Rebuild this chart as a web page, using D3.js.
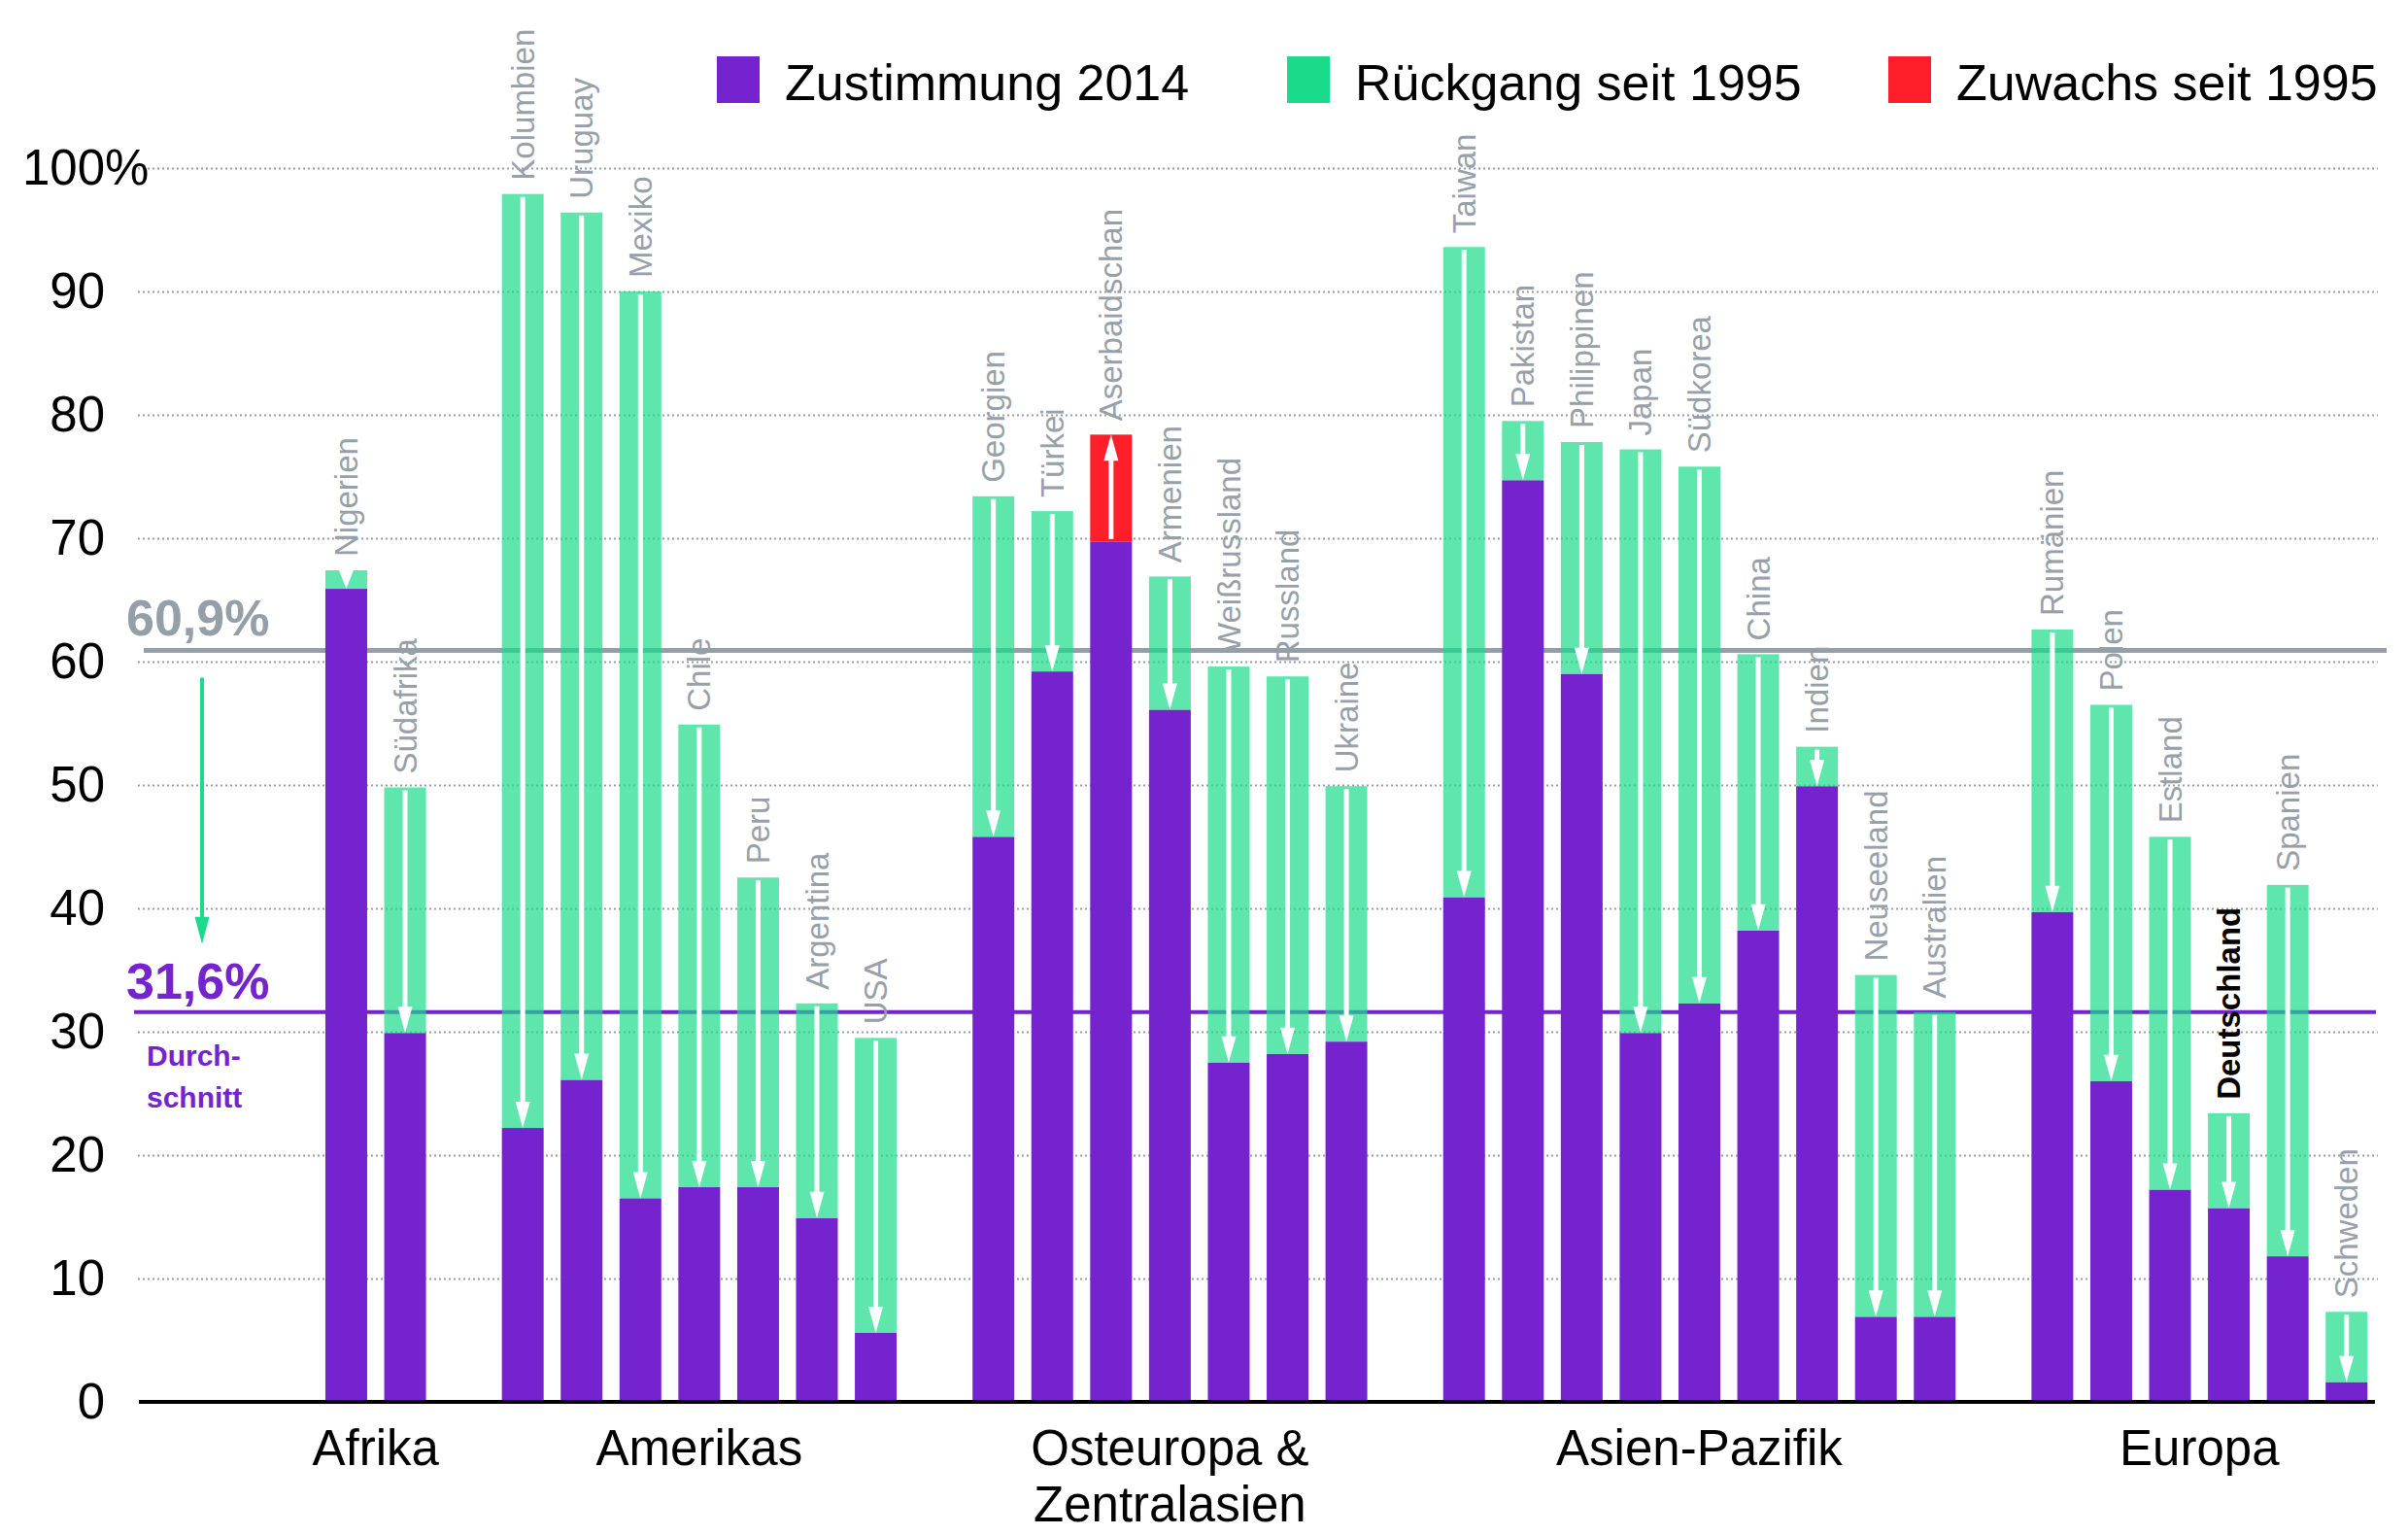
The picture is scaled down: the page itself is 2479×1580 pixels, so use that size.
<!DOCTYPE html>
<html>
<head>
<meta charset="utf-8">
<script src="https://cdn.jsdelivr.net/npm/d3@7"></script>
<style>
  body { margin: 0; background: #fff; }
  svg { display: block; font-family: "Liberation Sans", Arial, Helvetica, sans-serif; }
</style>
</head>
<body>
<script>
// Zustimmung in Prozent, 1995 und 2014
const regions = ['Afrika', 'Amerikas', 'Osteuropa &\nZentralasien', 'Asien-Pazifik', 'Europa'];
const regionSizes = [2, 7, 7, 9, 6];
const countries = [
  'Nigerien', 'Südafrika',
  'Kolumbien', 'Uruguay', 'Mexiko', 'Chile', 'Peru', 'Argentina', 'USA',
  'Georgien', 'Türkei', 'Aserbaidschan', 'Armenien', 'Weißrussland', 'Russland', 'Ukraine',
  'Taiwan', 'Pakistan', 'Philippinen', 'Japan', 'Südkorea', 'China', 'Indien', 'Neuseeland', 'Australien',
  'Rumänien', 'Polen', 'Estland', 'Deutschland', 'Spanien', 'Schweden'
];
const zustimmung1995 = [
  67.4, 49.8,
  97.9, 96.4, 90.0, 54.9, 42.5, 32.3, 29.5,
  73.4, 72.2, 69.7, 66.9, 59.6, 58.8, 49.9,
  93.6, 79.5, 77.8, 77.2, 75.8, 60.6, 53.1, 34.6, 31.6,
  62.6, 56.5, 45.8, 23.4, 41.9, 7.3
];
const zustimmung2014 = [
  65.9, 29.9,
  22.2, 26.1, 16.5, 17.4, 17.4, 14.9, 5.6,
  45.8, 59.2, 78.4, 56.1, 27.5, 28.2, 29.2,
  40.9, 74.7, 59.0, 29.9, 32.3, 38.2, 49.9, 6.9, 6.9,
  39.7, 26.0, 17.2, 15.7, 11.8, 1.6
];
const durchschnitt = [60.9, 31.6]; // 1995, 2014
const yTicks = [0, 10, 20, 30, 40, 50, 60, 70, 80, 90, 100];
const legendLabels = ['Zustimmung 2014', 'Rückgang seit 1995', 'Zuwachs seit 1995'];
const highlight = 'Deutschland';

const purple = '#7523cf', green = '#1adb8a', red = '#ff1f2a', grey = '#959fa8';

const width = 2479, height = 1580;
const svg = d3.select('body').append('svg')
  .attr('width', width)
  .attr('height', height);

// slots: three empty ones on the left, one empty slot between regions
const slots = ['_s0', '_s1', '_s2'];
let k = 0;
regionSizes.forEach((n, r) => {
  for (let i = 0; i < n; i++) slots.push(countries[k++]);
  if (r < regionSizes.length - 1) slots.push('_gap' + r);
});

const x = d3.scaleBand()
  .domain(slots)
  .range([144.5, 2446])
  .paddingInner(0.29)
  .paddingOuter(0.145);

const y = d3.scaleLinear()
  .domain([0, 100])
  .range([1443, 173]);

const rows = countries.map((c, i) => ({
  name: c,
  v95: zustimmung1995[i],
  v14: zustimmung2014[i],
  lo: Math.min(zustimmung1995[i], zustimmung2014[i]),
  hi: Math.max(zustimmung1995[i], zustimmung2014[i]),
  up: zustimmung2014[i] > zustimmung1995[i]
}));

// gridlines
const grid = svg.append('g')
  .attr('transform', 'translate(142,0)')
  .call(d3.axisLeft(y).tickValues(yTicks.filter(d => d > 0)).tickSize(-(2448 - 142)).tickFormat(''));
grid.select('.domain').remove();
grid.selectAll('line')
  .attr('stroke', '#9a9fa5')
  .attr('stroke-width', 2)
  .attr('stroke-dasharray', '2,3');

// average lines
svg.append('line')
  .attr('x1', 148).attr('x2', 2457)
  .attr('y1', y(durchschnitt[0])).attr('y2', y(durchschnitt[0]))
  .attr('stroke', grey).attr('stroke-width', 5);
svg.append('line')
  .attr('x1', 138).attr('x2', 2446)
  .attr('y1', y(durchschnitt[1])).attr('y2', y(durchschnitt[1]))
  .attr('stroke', purple).attr('stroke-width', 4);

// bars
svg.selectAll('rect.base')
  .data(rows)
  .enter()
  .append('rect')
  .attr('class', 'base')
  .attr('x', d => x(d.name))
  .attr('width', x.bandwidth())
  .attr('y', d => y(d.lo))
  .attr('height', d => y(0) - y(d.lo))
  .attr('fill', purple);

svg.selectAll('rect.change')
  .data(rows)
  .enter()
  .append('rect')
  .attr('class', 'change')
  .attr('x', d => x(d.name))
  .attr('width', x.bandwidth())
  .attr('y', d => y(d.hi))
  .attr('height', d => y(d.lo) - y(d.hi))
  .attr('fill', d => d.up ? red : green)
  .attr('fill-opacity', d => d.up ? 1 : 0.7);

// white arrows from 1995 to 2014
const arrows = svg.append('g');
rows.forEach(d => {
  const cx = x(d.name) + x.bandwidth() / 2;
  const from = y(d.v95), tip = y(d.v14);
  const dir = tip > from ? 1 : -1;
  const len = Math.abs(tip - from);
  const headLen = Math.min(27, len);
  const headW = 15;
  const start = from + dir * Math.min(3, Math.max(0, len - headLen));
  const headBase = tip - dir * headLen;
  if (len > headLen) {
    arrows.append('line')
      .attr('x1', cx).attr('x2', cx)
      .attr('y1', start).attr('y2', headBase + dir * 4)
      .attr('stroke', '#fff').attr('stroke-width', 5);
  }
  arrows.append('path')
    .attr('d', `M${cx - headW / 2},${headBase} L${cx + headW / 2},${headBase} L${cx},${tip} Z`)
    .attr('fill', '#fff');
});

// country labels
svg.selectAll('text.country')
  .data(rows)
  .enter()
  .append('text')
  .attr('class', 'country')
  .attr('transform', d => `translate(${x(d.name) + x.bandwidth() / 2},${y(d.hi) - 14}) rotate(-90)`)
  .attr('dy', '0.35em')
  .attr('font-size', 33)
  .attr('font-weight', d => d.name === highlight ? 'bold' : 'normal')
  .attr('fill', d => d.name === highlight ? '#000' : '#97a0a8')
  .text(d => d.name);

// baseline
svg.append('line')
  .attr('x1', 143).attr('x2', 2445)
  .attr('y1', y(0)).attr('y2', y(0))
  .attr('stroke', '#000').attr('stroke-width', 4);

// y axis labels
const yAxis = svg.append('g')
  .attr('transform', 'translate(142,0)')
  .call(d3.axisLeft(y).tickValues(yTicks).tickSize(0).tickPadding(34));
yAxis.select('.domain').remove();
yAxis.selectAll('text')
  .attr('font-size', 51)
  .attr('font-family', '"Liberation Sans", Arial, sans-serif')
  .attr('fill', '#000');
yAxis.selectAll('.tick')
  .filter(d => d === 100)
  .append('text')
  .attr('x', -34)
  .attr('dy', '0.32em')
  .attr('text-anchor', 'start')
  .attr('font-size', 51)
  .attr('font-family', '"Liberation Sans", Arial, sans-serif')
  .attr('fill', '#000')
  .text('%');

// region labels
let first = 0;
regions.forEach((r, i) => {
  const a = countries[first], b = countries[first + regionSizes[i] - 1];
  first += regionSizes[i];
  const cx = (x(a) + x(b) + x.bandwidth()) / 2;
  const t = svg.append('text')
    .attr('x', cx)
    .attr('y', 1508)
    .attr('text-anchor', 'middle')
    .attr('font-size', 51)
    .attr('fill', '#000');
  r.split('\n').forEach((line, j) => {
    t.append('tspan').attr('x', cx).attr('dy', j === 0 ? 0 : 58).text(line);
  });
});

// average annotations
const fmt = v => String(v).replace('.', ',') + '%';
svg.append('text')
  .attr('x', 130).attr('y', y(durchschnitt[0]) - 16)
  .attr('font-size', 52).attr('font-weight', 'bold')
  .attr('fill', grey)
  .text(fmt(durchschnitt[0]));
svg.append('text')
  .attr('x', 130).attr('y', y(durchschnitt[1]) - 14)
  .attr('font-size', 52).attr('font-weight', 'bold')
  .attr('fill', purple)
  .text(fmt(durchschnitt[1]));
svg.append('text')
  .attr('x', 151).attr('y', y(durchschnitt[1]) + 55)
  .attr('font-size', 30).attr('font-weight', 'bold')
  .attr('fill', purple)
  .selectAll('tspan')
  .data(['Durch-', 'schnitt'])
  .enter()
  .append('tspan')
  .attr('x', 151)
  .attr('dy', (d, i) => i === 0 ? 0 : 43)
  .text(d => d);

// green arrow for the average decline
const ax = 208, ay1 = y(58.7), ay2 = y(37.1);
svg.append('line')
  .attr('x1', ax).attr('x2', ax)
  .attr('y1', ay1).attr('y2', ay2 - 24)
  .attr('stroke', green).attr('stroke-width', 4);
svg.append('path')
  .attr('d', `M${ax - 7.5},${ay2 - 28} L${ax + 7.5},${ay2 - 28} L${ax},${ay2} Z`)
  .attr('fill', green);

// legend
const legendX = [738, 1325, 1944];
const legendColors = [purple, green, red];
const legend = svg.append('g');
legendLabels.forEach((l, i) => {
  legend.append('rect')
    .attr('x', legendX[i]).attr('y', 58)
    .attr('width', 44).attr('height', 48)
    .attr('fill', legendColors[i]);
  legend.append('text')
    .attr('x', legendX[i] + 70).attr('y', 103)
    .attr('font-size', 52)
    .attr('fill', '#000')
    .text(l);
});
</script>
</body>
</html>
